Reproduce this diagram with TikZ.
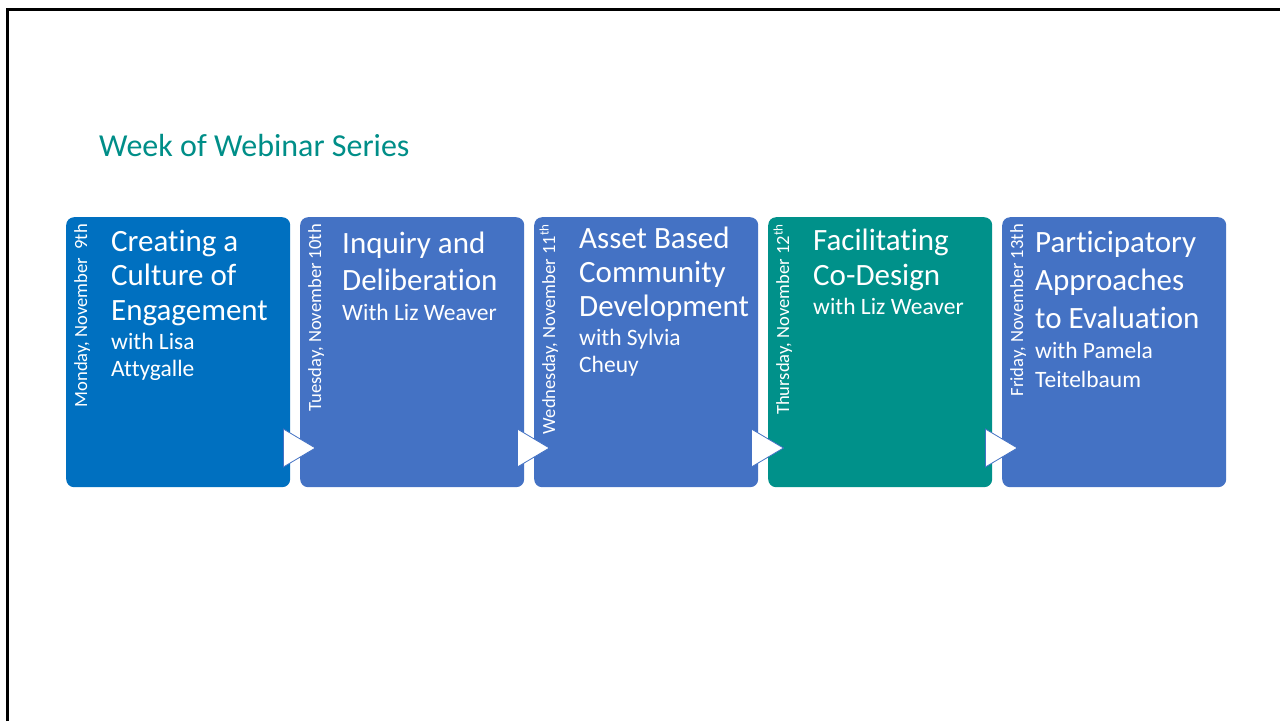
\documentclass[tikz,border=0pt]{standalone}
\usepackage{fontspec}
\setmainfont{Carlito}[Ligatures={NoCommon}]
\usetikzlibrary{calc}
\definecolor{boxdark}{HTML}{0070C0}
\definecolor{boxmid}{HTML}{4472C4}
\definecolor{boxteal}{RGB}{0,145,138}
\definecolor{titleteal}{RGB}{0,142,136}
\begin{document}
\begin{tikzpicture}[x=1pt,y=-1pt,
  box/.style={rounded corners=8pt, minimum width=224pt, minimum height=270pt,
    anchor=north west, inner sep=0pt, draw=none},
  head/.style={anchor=base west, inner sep=0pt, align=left, text=white,
    font=\fontsize{31}{#1}\selectfont},
  sub/.style={anchor=base west, inner sep=0pt, align=left, text=white,
    font=\fontsize{23.5}{#1}\selectfont},
  datelbl/.style={anchor=base east, inner sep=0pt, rotate=90, text=white,
    font=\fontsize{18.6}{20}\selectfont},
  tri/.style={fill=white, draw=boxmid, line width=0.8pt, line join=miter}
]
\useasboundingbox (0,0) rectangle (1280,721);
% slide frame
\draw[line width=3pt] (7.5,721) -- (7.5,9.5) -- (1280,9.5);

% title
\node[anchor=base west, inner sep=0pt, text=titleteal,
  font=\fontsize{32}{38}\selectfont] (title) at (99,156) {Week of Webinar Series};

% boxes
\node[box, fill=boxdark] (b1) at (66,217) {};
\node[box, fill=boxmid]  (b2) at (300,217) {};
\node[box, fill=boxmid]  (b3) at (534,217) {};
\node[box, fill=boxteal] (b4) at (768,217) {};
\node[box, fill=boxmid]  (b5) at (1002,217) {};

% arrows between boxes
\foreach \a/\b in {b1/b2, b2/b3, b3/b4, b4/b5}{
  \draw[tri] ($(\a.north east)+(-7,212)$) -- ($(\a.north east)+(25,231)$)
     -- ($(\a.north east)+(-7,250)$) -- cycle;
}

% dates
\node[datelbl] (d1) at (87,224) {Monday, November\ \ 9th};
\node[datelbl] (d2) at (321,224) {Tuesday, November 10th};
\node[datelbl] (d3) at (555,224) {Wednesday, November 11\textsuperscript{th}};
\node[datelbl] (d4) at (789,224) {Thursday, November 12\textsuperscript{th}};
\node[datelbl] (d5) at (1023,224) {Friday, November 13th};

% box 1 (anchors at the baseline of the last line)
\node[head=34.5] (h1) at (111,320) {Creating a\\Culture of\\Engagement};
\node[sub=27] (s1) at (111,376) {with Lisa\\Attygalle};
% box 2
\node[head=37] (h2) at (342,290) {Inquiry and\\Deliberation};
\node[sub=27] (s2) at (342,320) {With Liz Weaver};
% box 3
\node[head=34] (h3) at (579,316) {Asset Based\\Community\\Development};
\node[sub=27] (s3) at (579,372) {with Sylvia\\Cheuy};
% box 4
\node[head=35] (h4) at (813,285) {Facilitating\\Co-Design};
\node[sub=27] (s4) at (813,314) {with Liz Weaver};
% box 5
\node[head=38] (h5) at (1035,328) {Participatory\\Approaches\\to Evaluation};
\node[sub=29] (s5) at (1035,387) {with Pamela\\Teitelbaum};
\end{tikzpicture}
\end{document}
